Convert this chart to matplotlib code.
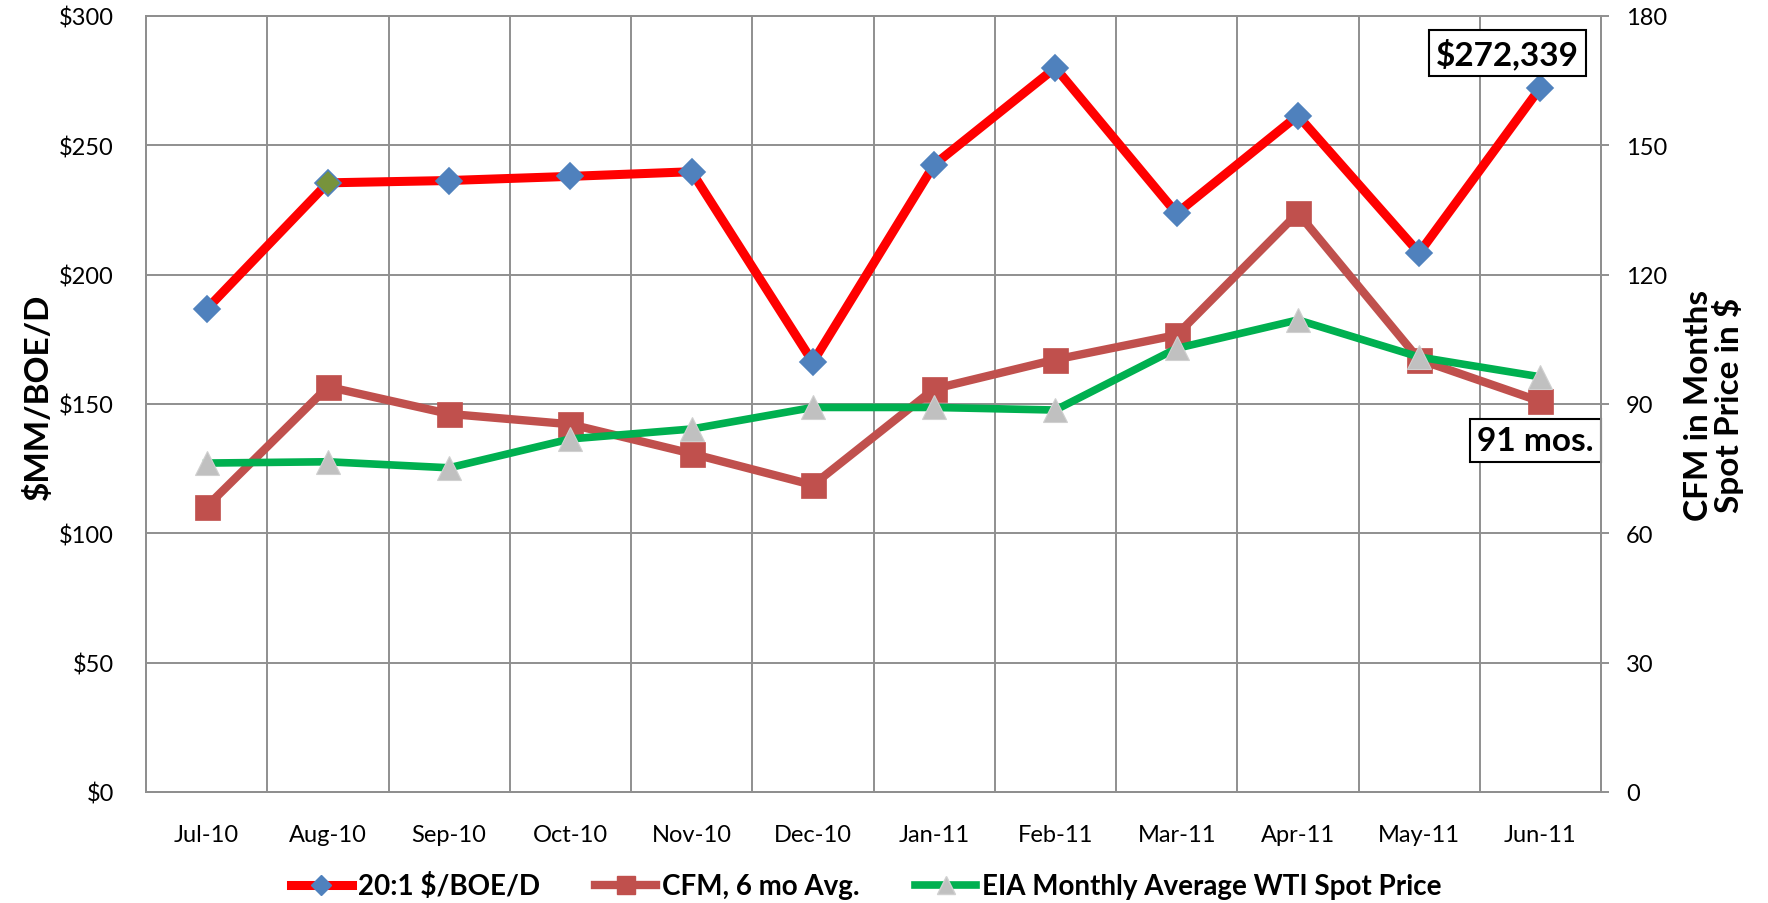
import matplotlib
matplotlib.use("Agg")
import matplotlib.pyplot as plt
from matplotlib.lines import Line2D
import numpy as np

plt.rcParams['font.family'] = ['Lato', 'DejaVu Sans']

months = ["Jul-10", "Aug-10", "Sep-10", "Oct-10", "Nov-10", "Dec-10",
          "Jan-11", "Feb-11", "Mar-11", "Apr-11", "May-11", "Jun-11"]
boe = [186.7, 235.5, 236.4, 238.0, 239.8, 166.2, 242.5, 280.0, 223.7, 261.5, 208.4, 272.3]
cfm = [66.2, 94.0, 87.7, 85.3, 78.5, 71.2, 93.5, 100.3, 106.0, 134.3, 100.3, 90.6]
wti = [76.3, 76.6, 75.2, 81.9, 84.2, 89.2, 89.2, 88.6, 102.9, 109.5, 100.9, 96.3]
left_ticks = [0, 50, 100, 150, 200, 250, 300]
left_labels = ["$0", "$50", "$100", "$150", "$200", "$250", "$300"]
right_ticks = [0, 30, 60, 90, 120, 150, 180]

W, H = 1768, 904
fig = plt.figure(figsize=(W / 100, H / 100), dpi=100)
L, R, T, B = 146, 1601, 17, 793
ax = fig.add_axes([L / W, 1 - B / H, (R - L) / W, (B - T) / H])
ax2 = ax.twinx()

grid_c = "#8f8f8f"
x = np.arange(len(months))

# primary series
diamond_fc = ["#4f81bd"] * len(months)
diamond_fc[1] = "#77933c"
ax.plot(x, boe, color="#ff0000", lw=6.5, zorder=3, solid_capstyle="round")
for xi, yi, fc in zip(x, boe, diamond_fc):
    ax.plot([xi], [yi], marker="D", ms=13, mfc=fc, mec="#4f81bd", mew=1.2,
            zorder=4, ls="none")

# secondary series
ax2.plot(x, cfm, color="#c0504d", lw=6, marker="s", ms=18, mfc="#c0504d",
         mec="#c0504d", mew=0.5, zorder=3)
ax2.plot(x, wti, color="#00b050", lw=5.5, marker="^", ms=17, mfc="#c0c0c0",
         mec="#d0d0d0", mew=0.8, zorder=4)

ax.set_xlim(-0.5, len(months) - 0.5)
ax.set_ylim(0, 300)
ax2.set_ylim(0, 180)

ax.set_xticks(x)
ax.set_xticklabels(months, fontsize=17)
ax.set_xticks(np.arange(0.5, len(months) - 1, 1), minor=True)
ax.tick_params(axis="x", which="both", length=0, pad=23)
ax.set_yticks(left_ticks)
ax.set_yticklabels(left_labels, fontsize=17)
ax.tick_params(axis="y", length=0, pad=23)
ax2.set_yticks(right_ticks)
ax2.set_yticklabels([str(v) for v in right_ticks], fontsize=17)
ax2.tick_params(axis="y", length=6, width=1.4, color=grid_c, pad=12)

ax.grid(True, which="minor", axis="x", color=grid_c, lw=1.4)
ax.grid(True, which="major", axis="y", color=grid_c, lw=1.4)
ax.set_axisbelow(True)
for a in (ax, ax2):
    for s in a.spines.values():
        s.set_color(grid_c)
        s.set_linewidth(1.4)

# axis titles
fig.text(38 / W, 1 - 397 / H, "$MM/BOE/D", rotation=90, ha="center", va="center",
         fontsize=24, fontweight="bold")
fig.text(1714 / W, 1 - 405 / H, "CFM in Months\nSpot Price in $", rotation=90,
         ha="center", va="center", fontsize=24, fontweight="bold", linespacing=1.0)

# annotations
box = dict(boxstyle="square,pad=0.22", fc="white", ec="black", lw=1.5)
ax.text(10.73, 285.7, "$272,339", ha="center", va="center", fontsize=24,
        fontweight="bold", bbox=box, zorder=6)
ax.text(10.96, 135.9, "91 mos.", ha="center", va="center", fontsize=24,
        fontweight="bold", bbox=box, zorder=6)

# legend
handles = [
    Line2D([], [], color="#ff0000", lw=6.5, marker="D", ms=10, mfc="#4f81bd", mec="#4f81bd"),
    Line2D([], [], color="#c0504d", lw=6, marker="s", ms=13, mfc="#c0504d", mec="#c0504d"),
    Line2D([], [], color="#00b050", lw=5.5, marker="^", ms=13, mfc="#c0c0c0", mec="#d0d0d0"),
]
labels = ["20:1 $/BOE/D", "CFM, 6 mo Avg.", "EIA Monthly Average WTI Spot Price"]
fig.legend(handles, labels, loc="center", bbox_to_anchor=(866 / W, 1 - 887 / H),
           ncol=3, frameon=False, prop=dict(size=20, weight="bold"),
           handlelength=2.2, handletextpad=0.2, columnspacing=2.0, borderpad=0)

fig.savefig("out.png", dpi=100)
